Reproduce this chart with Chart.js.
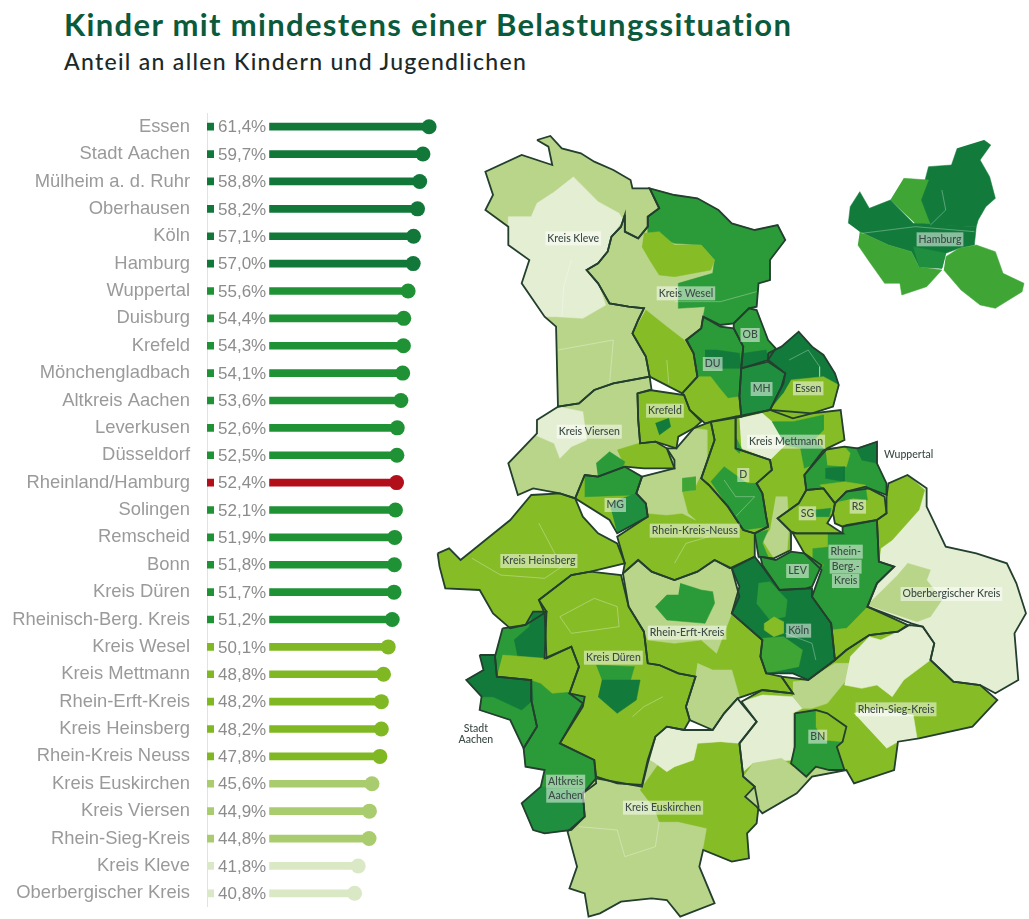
<!DOCTYPE html>
<html lang="de">
<head>
<meta charset="utf-8">
<title>Kinder mit mindestens einer Belastungssituation</title>
<script src="https://cdn.jsdelivr.net/npm/chart.js@4/dist/chart.umd.min.js"></script>
<style>
	html, body { margin: 0; padding: 0; background: #fff; width: 1029px; height: 919px; overflow: hidden; }
	h1, h2 { position: absolute; left: 64px; margin: 0; white-space: nowrap; }
	h1 { top: 5px; font: 700 31px Lato, sans-serif; color: #0b5a3c; letter-spacing: 1.33px; }
	h2 { top: 47px; font: 500 23px Lato, sans-serif; color: #1b2a28; letter-spacing: 1.3px; }
	canvas { position: absolute; }
	#bars { left: 0; top: 113px; }
	#map { left: 430px; top: 120px; }
</style>
</head>
<body>
<h1>Kinder mit mindestens einer Belastungssituation</h1>
<h2>Anteil an allen Kindern und Jugendlichen</h2>
<canvas id="bars" width="450" height="794"></canvas>
<canvas id="map" width="599" height="799"></canvas>
<script>
const regionen = ['Essen', 'Stadt Aachen', 'Mülheim a. d. Ruhr', 'Oberhausen', 'Köln', 'Hamburg', 'Wuppertal', 'Duisburg', 'Krefeld', 'Mönchengladbach', 'Altkreis Aachen', 'Leverkusen', 'Düsseldorf', 'Rheinland/Hamburg', 'Solingen', 'Remscheid', 'Bonn', 'Kreis Düren', 'Rheinisch-Berg. Kreis', 'Kreis Wesel', 'Kreis Mettmann', 'Rhein-Erft-Kreis', 'Kreis Heinsberg', 'Rhein-Kreis Neuss', 'Kreis Euskirchen', 'Kreis Viersen', 'Rhein-Sieg-Kreis', 'Kreis Kleve', 'Oberbergischer Kreis'];
const anteile = [61.4, 59.7, 58.8, 58.2, 57.1, 57.0, 55.6, 54.4, 54.3, 54.1, 53.6, 52.6, 52.5, 52.4, 52.1, 51.9, 51.8, 51.7, 51.2, 50.1, 48.8, 48.2, 48.2, 47.8, 45.6, 44.9, 44.8, 41.8, 40.8];

// map outlines, in map units
const kleve = [[280,60],[315,48],[345,85],[395,100],[430,125],[480,150],[525,180],[530,205],[575,205],[600,265],[570,290],[570,320],[545,355],[510,335],[510,285],[500,320],[475,350],[465,395],[440,430],[410,450],[440,490],[470,550],[520,560],[560,565],[545,600],[530,640],[565,710],[575,770],[480,790],[430,810],[390,850],[335,860],[330,620],[300,590],[240,490],[260,420],[205,375],[205,320],[145,270],[165,225],[145,155],[240,105],[320,135],[310,80]];
const kleveHell = [[375,170],[440,245],[495,280],[505,300],[475,350],[465,395],[440,430],[410,450],[440,490],[460,555],[400,595],[330,590],[300,590],[240,490],[260,420],[205,375],[205,290],[265,290],[280,250],[320,220]];
const wesel = [[510,285],[510,335],[545,355],[570,320],[570,290],[600,265],[575,205],[640,225],[700,235],[755,270],[790,310],[850,330],[910,315],[930,360],[890,420],[890,480],[860,490],[855,560],[835,565],[795,610],[760,615],[715,590],[710,625],[670,660],[690,700],[700,770],[660,820],[575,770],[565,710],[530,640],[545,600],[560,565],[520,560],[470,550],[440,490],[410,450],[440,430],[465,395],[475,350],[500,320]];
const weselDunkel = [[575,205],[640,225],[700,235],[755,270],[790,310],[850,330],[910,315],[930,360],[890,420],[890,480],[860,490],[855,560],[835,565],[795,610],[760,615],[715,590],[720,560],[650,565],[650,490],[740,460],[745,420],[710,375],[640,370],[570,340],[570,290],[600,265]];
const weselMitte = [[560,340],[600,335],[640,375],[710,375],[745,420],[735,450],[640,470],[600,465],[575,420],[555,380]];
const weselSued = [[565,570],[620,620],[665,660],[690,700],[700,770],[660,820],[575,770],[565,710],[530,640]];
const duisburg = [[715,590],[760,620],[795,625],[820,680],[815,740],[810,830],[815,890],[740,905],[720,910],[680,870],[665,825],[660,820],[700,770],[690,700],[672,660],[710,625]];
const duisburgBand = [[720,690],[750,690],[810,700],[815,745],[740,745],[720,735]];
const duisburgSued = [[660,820],[700,770],[735,770],[755,800],[780,835],[810,830],[815,890],[740,905],[720,910],[680,870],[665,825]];
const oberhausen = [[795,610],[835,565],[855,570],[885,660],[905,685],[885,720],[815,745],[820,680],[795,625]];
const oberhausenSued = [[820,700],[880,690],[885,720],[815,745]];
const essen = [[885,700],[920,680],[965,635],[1000,680],[1030,705],[1060,760],[1070,795],[1055,860],[1000,880],[890,870],[925,790],[930,760],[885,720]];
const essenSued = [[945,780],[1030,770],[1070,795],[1055,860],[1000,880],[950,895],[890,870],[925,820]];
const muelheim = [[815,745],[885,725],[930,760],[920,800],[890,870],[815,890],[810,830]];
const krefeld = [[543,820],[575,810],[665,825],[680,870],[710,905],[690,925],[650,950],[645,985],[590,965],[550,970],[545,900]];
const krefeldKern = [[590,910],[625,895],[630,920],[600,945]];
const viersen = [[335,860],[390,850],[430,810],[480,790],[575,770],[580,810],[543,820],[545,900],[550,970],[590,965],[620,985],[640,1020],[640,1045],[560,1045],[510,1040],[440,1070],[405,1065],[380,1135],[340,1120],[270,1105],[230,1125],[205,1030],[280,940],[280,900]];
const viersenHell = [[335,860],[400,875],[410,960],[370,980],[340,1015],[325,970],[275,945],[280,900]];
const viersenFleck = [[435,1030],[470,995],[510,1025],[500,1060],[440,1075]];
const viersenSued = [[490,990],[560,965],[590,970],[620,985],[640,1020],[640,1045],[560,1045],[510,1040]];
const gladbach = [[405,1065],[440,1070],[510,1040],[555,1070],[540,1120],[565,1150],[570,1190],[490,1240],[470,1200],[380,1135]];
const gladbachNord = [[405,1065],[440,1070],[510,1040],[555,1070],[540,1125],[405,1130]];
const gladbachOst = [[470,1150],[540,1120],[565,1150],[570,1190],[490,1240]];
const neuss = [[555,1070],[640,1045],[620,985],[645,985],[690,925],[735,905],[745,960],[710,1075],[730,1095],[780,1160],[820,1230],[850,1240],[850,1310],[785,1345],[745,1320],[700,1355],[640,1380],[580,1355],[545,1320],[505,1360],[510,1330],[490,1250],[570,1190],[565,1150],[540,1120]];
const neussHell = [[555,1070],[640,1045],[620,985],[645,985],[690,925],[725,930],[725,1050],[705,1075],[690,1110],[660,1115],[675,1180],[695,1200],[660,1180],[620,1185],[570,1180],[565,1150],[540,1120]];
const neussFleck = [[660,1075],[695,1070],[695,1110],[660,1115]];
const duesseldorf = [[735,905],[800,890],[800,985],[890,1020],[895,1050],[855,1090],[870,1120],[880,1190],[885,1220],[850,1240],[820,1230],[780,1160],[730,1095],[710,1075],[745,960]];
const duesseldorfSued = [[735,1085],[770,1040],[830,1090],[855,1090],[870,1120],[880,1190],[885,1220],[820,1230],[780,1160]];
const mettmann = [[800,890],[890,870],[950,895],[1000,880],[1075,870],[1085,960],[1040,985],[980,1065],[985,1110],[965,1150],[910,1195],[945,1235],[945,1290],[900,1315],[860,1310],[850,1240],[885,1220],[880,1190],[870,1120],[855,1090],[895,1050],[890,1020],[800,985]];
const mettmannHell = [[810,895],[870,880],[900,910],[930,975],[890,1020],[850,1000],[815,985]];
const mettmannNord = [[895,905],[950,905],[1030,885],[1030,930],[1005,960],[1030,985],[1000,1035],[980,1045],[970,985],[930,975]];
const mettmannRand = [[800,950],[815,985],[810,1000],[800,990]];
const mettmannSued = [[905,1130],[935,1130],[940,1220],[935,1290],[900,1315],[870,1260],[890,1230]];
const mettmannWest = [[850,1240],[885,1230],[870,1270],[885,1310],[860,1315]];
const wuppertal = [[1030,990],[1085,980],[1120,985],[1170,965],[1170,1030],[1195,1090],[1195,1125],[1150,1105],[1090,1115],[1060,1150],[1030,1105],[985,1110],[980,1065]];
const wuppertalOst = [[1115,985],[1170,965],[1170,1030],[1130,1020]];
const wuppertalNord = [[1035,985],[1085,980],[1100,1000],[1090,1040],[1040,1035]];
const wuppertalMitte = [[1035,1045],[1085,1040],[1085,1085],[1035,1075]];
const wuppertalSued = [[1020,1095],[1085,1085],[1140,1095],[1140,1105],[1090,1115],[1060,1150],[1030,1105]];
const solingen = [[965,1150],[985,1110],[1030,1105],[1060,1150],[1055,1180],[1040,1210],[1080,1240],[960,1240],[945,1235],[910,1195]];
const solingenFleck = [[1005,1170],[1050,1165],[1045,1190],[1010,1190]];
const remscheid = [[1060,1150],[1090,1115],[1140,1100],[1190,1130],[1195,1180],[1170,1200],[1090,1215],[1080,1220],[1060,1210],[1055,1180]];
const remscheidNord = [[1070,1145],[1090,1115],[1140,1100],[1145,1140],[1110,1135]];
const oberberg = [[1195,1130],[1200,1090],[1250,1065],[1300,1105],[1300,1160],[1350,1280],[1430,1300],[1510,1330],[1535,1390],[1560,1480],[1530,1540],[1540,1680],[1480,1720],[1440,1695],[1370,1685],[1310,1620],[1320,1570],[1290,1520],[1260,1510],[1145,1460],[1170,1390],[1215,1340],[1175,1325],[1170,1200],[1195,1180]];
const oberbergNord = [[1195,1130],[1200,1090],[1250,1065],[1295,1110],[1280,1170],[1210,1260],[1180,1285],[1175,1325],[1170,1200],[1195,1180]];
const oberbergFleck = [[1250,1330],[1310,1350],[1300,1380],[1340,1440],[1310,1490],[1275,1505],[1145,1455],[1185,1410],[1220,1370]];
const rheinBerg = [[1080,1220],[1170,1200],[1175,1325],[1215,1340],[1170,1390],[1145,1460],[1250,1515],[1225,1535],[1150,1545],[1090,1590],[1060,1620],[1050,1510],[1000,1430],[1025,1350],[980,1300],[950,1240],[1080,1240]];
const rheinBergSued = [[1145,1460],[1250,1515],[1225,1535],[1150,1545],[1090,1590],[1060,1620],[1050,1530],[1090,1525]];
const rheinBergWest = [[950,1240],[1040,1240],[1040,1280],[1000,1285],[1000,1315],[1030,1335],[1010,1355],[980,1300]];
const leverkusen = [[865,1310],[905,1320],[945,1295],[980,1300],[1025,1335],[1000,1400],[985,1405],[915,1410],[870,1335]];
const koeln = [[790,1345],[850,1310],[870,1340],[915,1410],[1000,1405],[1000,1430],[1050,1510],[1060,1620],[990,1680],[950,1660],[880,1660],[865,1610],[870,1560],[790,1480],[810,1400]];
const koelnLappen = [[860,1390],[890,1385],[935,1440],[930,1490],[890,1500],[855,1450]];
const koelnKreis = [[900,1490],[925,1505],[925,1540],[900,1550],[875,1530],[875,1510]];
const koelnSued = [[870,1555],[925,1550],[975,1590],[965,1640],[880,1660],[865,1610]];
const erft = [[505,1360],[545,1320],[580,1355],[640,1380],[700,1355],[745,1320],[790,1345],[810,1430],[790,1480],[870,1560],[865,1610],[880,1660],[920,1670],[950,1720],[870,1710],[805,1735],[770,1780],[740,1830],[680,1800],[670,1760],[695,1670],[650,1660],[600,1635],[570,1630],[560,1535],[520,1460]];
const erftHell = [[505,1360],[545,1320],[580,1355],[640,1380],[700,1355],[745,1320],[790,1345],[810,1430],[790,1480],[750,1600],[710,1560],[640,1570],[570,1560],[560,1535],[520,1460]];
const erftFleck = [[655,1390],[710,1410],[740,1415],[745,1450],[720,1510],[620,1500],[590,1460],[620,1425],[650,1425]];
const erftSued = [[700,1630],[740,1650],[790,1650],[810,1730],[770,1780],[740,1830],[680,1800],[670,1760],[695,1670]];
const heinsberg = [[20,1300],[50,1285],[80,1320],[210,1200],[265,1125],[340,1120],[380,1135],[400,1190],[440,1240],[490,1270],[510,1330],[420,1355],[370,1365],[285,1440],[305,1475],[250,1515],[210,1525],[165,1480],[130,1410],[40,1405],[25,1340]];
const dueren = [[285,1440],[370,1365],[420,1355],[500,1365],[520,1460],[560,1535],[570,1630],[600,1635],[650,1660],[695,1670],[670,1760],[680,1800],[665,1830],[620,1820],[590,1850],[570,1920],[555,1995],[490,1990],[435,1970],[430,1920],[340,1870],[400,1750],[365,1720],[390,1640],[370,1580],[305,1615],[300,1480]];
const duerenNord = [[435,1635],[535,1640],[525,1680],[450,1680]];
const duerenKern = [[450,1680],[525,1680],[550,1680],[540,1740],[490,1780],[440,1730]];
const altkreis = [[190,1525],[250,1515],[270,1475],[305,1475],[300,1615],[370,1580],[390,1640],[365,1720],[405,1730],[400,1760],[340,1870],[430,1920],[435,1990],[400,2020],[405,2090],[370,2130],[300,2140],[270,2130],[240,2050],[290,2000],[300,1950],[250,1940],[245,1885],[280,1820],[265,1740],[265,1680],[175,1670],[170,1610]];
const altkreisNord = [[220,1560],[260,1520],[270,1475],[305,1475],[300,1615],[230,1615]];
const altkreisMitte = [[190,1605],[300,1615],[370,1580],[390,1640],[365,1715],[320,1720],[290,1690],[265,1680],[175,1670]];
const altkreisSued = [[240,2050],[290,2000],[400,2020],[405,2090],[370,2130],[300,2140],[270,2130]];
const aachen = [[130,1605],[170,1605],[175,1670],[265,1680],[265,1740],[280,1820],[245,1885],[210,1800],[130,1770],[135,1730],[95,1680],[140,1650]];
const aachenNord = [[130,1605],[170,1605],[175,1670],[265,1680],[270,1740],[240,1770],[165,1730],[135,1730],[95,1680],[140,1650]];
const euskirchen = [[435,1975],[555,2000],[570,1930],[590,1850],[620,1820],[665,1830],[740,1830],[770,1780],[805,1735],[815,1750],[855,1805],[810,1870],[820,1970],[850,2000],[860,2060],[855,2110],[830,2140],[835,2215],[790,2225],[715,2190],[705,2240],[745,2350],[655,2390],[620,2340],[580,2335],[500,2345],[445,2380],[415,2390],[405,2320],[365,2305],[385,2240],[360,2135],[405,2090],[400,2020]];
const euskirchenOst = [[550,2010],[600,1930],[640,1940],[690,1920],[700,1870],[760,1865],[810,1870],[820,1970],[850,2000],[860,2060],[855,2110],[830,2140],[835,2215],[790,2225],[715,2190],[725,2125],[650,2105],[600,2105],[590,2070]];
const euskirchenHell = [[575,1920],[590,1850],[620,1820],[665,1830],[740,1830],[770,1780],[805,1735],[815,1750],[855,1805],[810,1870],[760,1865],[700,1870],[690,1920],[640,1940],[620,1955],[590,1930]];
const rheinSieg = [[815,1745],[870,1710],[950,1720],[920,1670],[990,1680],[1060,1620],[1090,1590],[1150,1545],[1225,1535],[1255,1515],[1290,1520],[1320,1570],[1310,1620],[1370,1685],[1440,1695],[1485,1740],[1420,1820],[1280,1855],[1225,1865],[1215,1950],[1110,1990],[1090,1950],[1000,1970],[960,2020],[870,2080],[855,2060],[825,2030],[850,2000],[820,1970],[810,1870],[855,1805]];
const siegWest = [[815,1745],[870,1725],[950,1730],[975,1765],[950,1780],[950,1920],[845,1930],[820,1955],[810,1870],[855,1805]];
const siegSued = [[845,1930],[920,1915],[950,1940],[1080,1950],[1090,1950],[1000,1970],[960,2020],[870,2080],[855,2060],[825,2030],[850,2000],[820,1970]];
const siegMitte = [[950,1685],[990,1680],[1060,1630],[1100,1630],[1090,1680],[1040,1750],[1000,1765],[975,1765],[950,1730]];
const siegNord = [[1100,1610],[1150,1550],[1180,1560],[1225,1535],[1255,1515],[1290,1520],[1320,1570],[1310,1620],[1240,1680],[1210,1730],[1170,1695],[1130,1705],[1085,1695]];
const siegOst = [[1110,1780],[1165,1765],[1265,1785],[1275,1855],[1225,1865],[1195,1885]];
const bonn = [[955,1780],[1010,1770],[1040,1780],[1090,1820],[1080,1865],[1065,1880],[1085,1950],[1045,1950],[1010,1940],[985,1970],[945,1930],[955,1880]];
const bonnNord = [[1010,1775],[1040,1780],[1090,1820],[1080,1865],[1030,1860],[1010,1820]];
const hhNordost = [[1450,60],[1468,75],[1440,120],[1465,170],[1480,235],[1455,260],[1435,300],[1430,320],[1310,315],[1280,250],[1305,140],[1365,135],[1380,85]];
const hhNordwest = [[1240,175],[1305,180],[1285,240],[1310,315],[1270,310],[1205,240]];
const hhMitte = [[1095,310],[1100,260],[1125,215],[1150,265],[1205,240],[1265,310],[1430,320],[1425,375],[1385,385],[1350,400],[1340,445],[1280,440],[1260,395],[1200,375],[1125,335]];
const hhSuedwest = [[1125,335],[1200,375],[1260,395],[1280,440],[1340,450],[1300,500],[1235,525],[1230,490],[1190,490],[1150,425],[1120,375]];
const hhSuedost = [[1350,410],[1385,385],[1430,375],[1480,395],[1500,460],[1555,490],[1550,515],[1480,565],[1440,555],[1390,510],[1345,450]];
const hhKern = [[1265,380],[1350,400],[1340,445],[1280,440]];

// thin inner borders
const grenzeKleve = [[370,420],[350,500],[345,590]];
const grenzeKleveSued = [[335,690],[480,660],[470,790]];
const grenzeWesel = [[640,545],[760,545],[855,515]];
const grenzeWeselSued = [[620,720],[625,790]];
const grenzeEssen = [[940,720],[990,690],[1020,740],[1020,770]];
const grenzeDuesseldorf = [[770,1080],[800,1130],[850,1130],[800,1190]];
const grenzeNeuss = [[640,1330],[670,1270],[730,1250]];
const grenzeHeinsberg = [[110,1315],[185,1365],[300,1375],[345,1340],[285,1210]];
const grenzeDueren = [[340,1490],[430,1435],[490,1460],[495,1520],[370,1540],[340,1490]];
const grenzeDuerenSued = [[530,1790],[560,1760],[610,1730]];
const grenzeEuskirchen = [[390,2120],[490,2130],[510,2210],[590,2180],[600,2105]];
const grenzeKoeln = [[930,1540],[1000,1570],[1010,1620]];
const grenzeHamburgNord = [[1340,210],[1350,270],[1310,315]];
const grenzeHamburgBand = [[1130,340],[1270,320],[1425,335]];
const innenGrenzen = [grenzeKleve, grenzeKleveSued, grenzeWesel, grenzeWeselSued, grenzeEssen, grenzeDuesseldorf, grenzeNeuss, grenzeHeinsberg, grenzeDueren, grenzeDuerenSued, grenzeEuskirchen, grenzeKoeln, grenzeHamburgNord, grenzeHamburgBand];

const kartenLabels = ['Kreis Kleve', 'Kreis Wesel', 'Hamburg', 'OB', 'DU', 'MH', 'Essen', 'Krefeld', 'Kreis Viersen', 'Kreis Mettmann', 'D', 'MG', 'SG', 'RS', 'Rhein-Kreis-Neuss', 'Kreis Heinsberg', 'LEV', 'Rhein-', 'Berg.-', 'Kreis', 'Oberbergischer Kreis', 'Rhein-Erft-Kreis', 'Köln', 'Kreis Düren', 'Rhein-Sieg-Kreis', 'BN', 'Altkreis', 'Aachen', 'Kreis Euskirchen'];
const kartenLabelX = [375, 670, 1335, 838, 740, 868, 990, 615, 417, 932, 820, 485, 988, 1120, 693, 285, 962, 1088, 1088, 1088, 1365, 673, 965, 480, 1220, 1015, 355, 355, 610];
const kartenLabelY = [355, 520, 358, 645, 732, 807, 805, 872, 935, 965, 1065, 1155, 1180, 1160, 1232, 1323, 1353, 1295, 1340, 1383, 1422, 1538, 1532, 1613, 1768, 1850, 1985, 2027, 2063];
const freieLabels = ['Wuppertal', 'Stadt', 'Aachen'];
const freieLabelX = [1253, 120, 120];
const freieLabelY = [1003, 1825, 1860];

const C_DUNKEL = '#127b3c', C_MITTEL = '#2b9a38', C_HELLER = '#3fa636', C_GRUEN = '#86bc26', C_OLIV = '#b9d58a', C_BLASS = '#e4eed3';

const flaechen = [
	[kleve, C_OLIV], [kleveHell, C_BLASS],
	[wesel, C_OLIV], [weselDunkel, C_MITTEL], [weselMitte, C_GRUEN], [weselSued, C_GRUEN],
	[duisburg, C_MITTEL], [duisburgBand, C_DUNKEL], [duisburgSued, C_GRUEN],
	[oberhausen, C_MITTEL], [oberhausenSued, C_DUNKEL],
	[essen, C_DUNKEL], [essenSued, C_GRUEN], [muelheim, '#1f8f3f'],
	[krefeld, C_GRUEN], [krefeldKern, C_DUNKEL],
	[viersen, C_OLIV], [viersenHell, C_BLASS], [viersenSued, C_GRUEN], [viersenFleck, C_MITTEL],
	[neuss, C_GRUEN], [neussHell, C_OLIV], [neussFleck, C_HELLER],
	[gladbach, C_GRUEN], [gladbachNord, C_MITTEL], [gladbachOst, '#1f8f3f'],
	[duesseldorf, C_GRUEN], [duesseldorfSued, C_MITTEL],
	[mettmann, C_GRUEN], [mettmannHell, C_BLASS], [mettmannNord, C_MITTEL], [mettmannRand, C_MITTEL], [mettmannSued, C_OLIV], [mettmannWest, C_MITTEL],
	[wuppertal, C_MITTEL], [wuppertalOst, C_DUNKEL], [wuppertalNord, C_GRUEN], [wuppertalMitte, C_DUNKEL], [wuppertalSued, C_GRUEN],
	[solingen, C_GRUEN], [solingenFleck, '#1f8f3f'],
	[remscheid, C_GRUEN], [remscheidNord, C_MITTEL],
	[oberberg, C_BLASS], [oberbergNord, C_GRUEN], [oberbergFleck, C_OLIV],
	[rheinBerg, C_MITTEL], [rheinBergSued, C_GRUEN], [rheinBergWest, C_GRUEN],
	[leverkusen, C_MITTEL],
	[erft, C_GRUEN], [erftHell, C_OLIV], [erftFleck, C_MITTEL], [erftSued, C_OLIV],
	[koeln, C_DUNKEL], [koelnLappen, C_MITTEL], [koelnKreis, C_GRUEN], [koelnSued, C_HELLER],
	[heinsberg, C_GRUEN],
	[dueren, C_GRUEN], [duerenNord, C_MITTEL], [duerenKern, C_DUNKEL],
	[altkreis, C_MITTEL], [altkreisNord, C_DUNKEL], [altkreisMitte, C_GRUEN], [altkreisSued, '#1f8f3f'],
	[aachen, C_MITTEL], [aachenNord, C_DUNKEL],
	[euskirchen, C_OLIV], [euskirchenOst, C_GRUEN], [euskirchenHell, C_BLASS],
	[rheinSieg, C_GRUEN], [siegWest, C_BLASS], [siegSued, C_OLIV], [siegMitte, C_OLIV], [siegNord, C_BLASS], [siegOst, C_BLASS],
	[bonn, C_MITTEL], [bonnNord, C_GRUEN],
	[hhNordost, C_DUNKEL], [hhNordwest, C_HELLER], [hhMitte, C_DUNKEL], [hhSuedwest, C_HELLER], [hhSuedost, C_HELLER], [hhKern, '#1f8f3f'],
];
const umrisse = [kleve, wesel, duisburg, oberhausen, essen, muelheim, krefeld, viersen, neuss, gladbach, duesseldorf, mettmann, wuppertal, solingen, remscheid, rheinBerg, leverkusen, oberberg, erft, koeln, heinsberg, dueren, altkreis, aachen, euskirchen, rheinSieg, bonn];

function barColor(name, wert) {
	if (name === 'Rheinland/Hamburg') return '#b30f1a';
	if (wert >= 57) return '#11783a';
	if (wert >= 51) return '#1f9236';
	if (wert >= 47) return '#7fb823';
	if (wert >= 44) return '#a9cc6f';
	return '#dbe8c6';
}
const farben = regionen.map((name, i) => barColor(name, anteile[i]));

const wertLabels = {
	id: 'wertLabels',
	afterDatasetsDraw(chart) {
		const { ctx, scales } = chart;
		ctx.save();
		ctx.font = '17px "Liberation Sans"';
		ctx.textBaseline = 'middle';
		regionen.forEach((name, i) => {
			const text = anteile[i].toFixed(1).replace('.', ',') + '%';
			const x = scales.x.getPixelForValue(0) + 11;
			const y = scales.y.getPixelForValue(i);
			const w = ctx.measureText(text).width;
			ctx.fillStyle = '#fff';
			ctx.fillRect(x - 4, y - 10, w + 7, 20);
			ctx.fillStyle = '#8c8c8c';
			ctx.fillText(text, x, y + 1);
		});
		ctx.restore();
	},
};

new Chart(document.getElementById('bars'), {
	data: {
		labels: regionen,
		datasets: [
			{ type: 'line', data: anteile, showLine: false, pointRadius: 7.5, pointBackgroundColor: farben, pointBorderWidth: 0, clip: false },
			{ type: 'bar', data: anteile, backgroundColor: farben, barThickness: 7 },
		],
	},
	options: {
		indexAxis: 'y',
		responsive: false,
		animation: false,
		layout: { padding: 0, autoPadding: false },
		plugins: { legend: { display: false }, tooltip: { enabled: false } },
		scales: {
			x: { display: false, min: 0, max: 67.18 },
			y: {
				afterFit: (scale) => {
					scale.width = 207;
					scale.paddingTop = 0;
					scale.paddingBottom = 0;
				},
				grid: { display: false, drawTicks: false },
				border: { color: '#e2e2e2' },
				ticks: { color: '#9a9a9a', font: { family: '"Liberation Sans"', size: 18.4 }, padding: 17, autoSkip: false },
			},
		},
	},
	plugins: [wertLabels],
});

const toXY = (pts) => pts.map((p) => ({ x: p[0], y: p[1] }));
const mapDatasets = [];
flaechen.forEach(([pts, farbe]) => {
	mapDatasets.push({ data: toXY(pts), showLine: true, fill: 'shape', backgroundColor: farbe, borderColor: farbe, borderWidth: 0.5, tension: 0, pointRadius: 0 });
});
innenGrenzen.forEach((pts) => {
	mapDatasets.push({ data: toXY(pts), showLine: true, fill: false, borderColor: 'rgba(255,255,255,0.3)', borderWidth: 1, tension: 0, pointRadius: 0 });
});
umrisse.forEach((pts) => {
	mapDatasets.push({ data: toXY(pts.concat([pts[0]])), showLine: true, fill: false, borderColor: '#233f2e', borderWidth: 1.8, tension: 0, pointRadius: 0 });
});
mapDatasets.forEach((d, i) => { d.order = mapDatasets.length - i; });

const kartenText = {
	id: 'kartenText',
	afterDatasetsDraw(chart) {
		const { ctx, scales } = chart;
		ctx.save();
		ctx.font = '500 10.5px Lato';
		ctx.textAlign = 'center';
		ctx.textBaseline = 'middle';
		kartenLabels.forEach((t, i) => {
			const x = scales.x.getPixelForValue(kartenLabelX[i]);
			const y = scales.y.getPixelForValue(kartenLabelY[i]);
			const w = ctx.measureText(t).width + 4;
			ctx.fillStyle = 'rgba(255,255,255,0.5)';
			ctx.fillRect(x - w / 2, y - 7, w, 14);
			ctx.fillStyle = '#3b4b45';
			ctx.fillText(t, x, y);
		});
		freieLabels.forEach((t, i) => {
			ctx.fillStyle = '#3b4b45';
			ctx.fillText(t, scales.x.getPixelForValue(freieLabelX[i]), scales.y.getPixelForValue(freieLabelY[i]));
		});
		ctx.restore();
	},
};

new Chart(document.getElementById('map'), {
	type: 'scatter',
	data: { datasets: mapDatasets },
	options: {
		responsive: false,
		animation: false,
		layout: { padding: 0, autoPadding: false },
		plugins: { legend: { display: false }, tooltip: { enabled: false } },
		scales: {
			x: { display: false, min: 0, max: 1568 },
			y: { display: false, min: 0, max: 2397, reverse: true },
		},
	},
	plugins: [kartenText],
});
</script>
</body>
</html>
